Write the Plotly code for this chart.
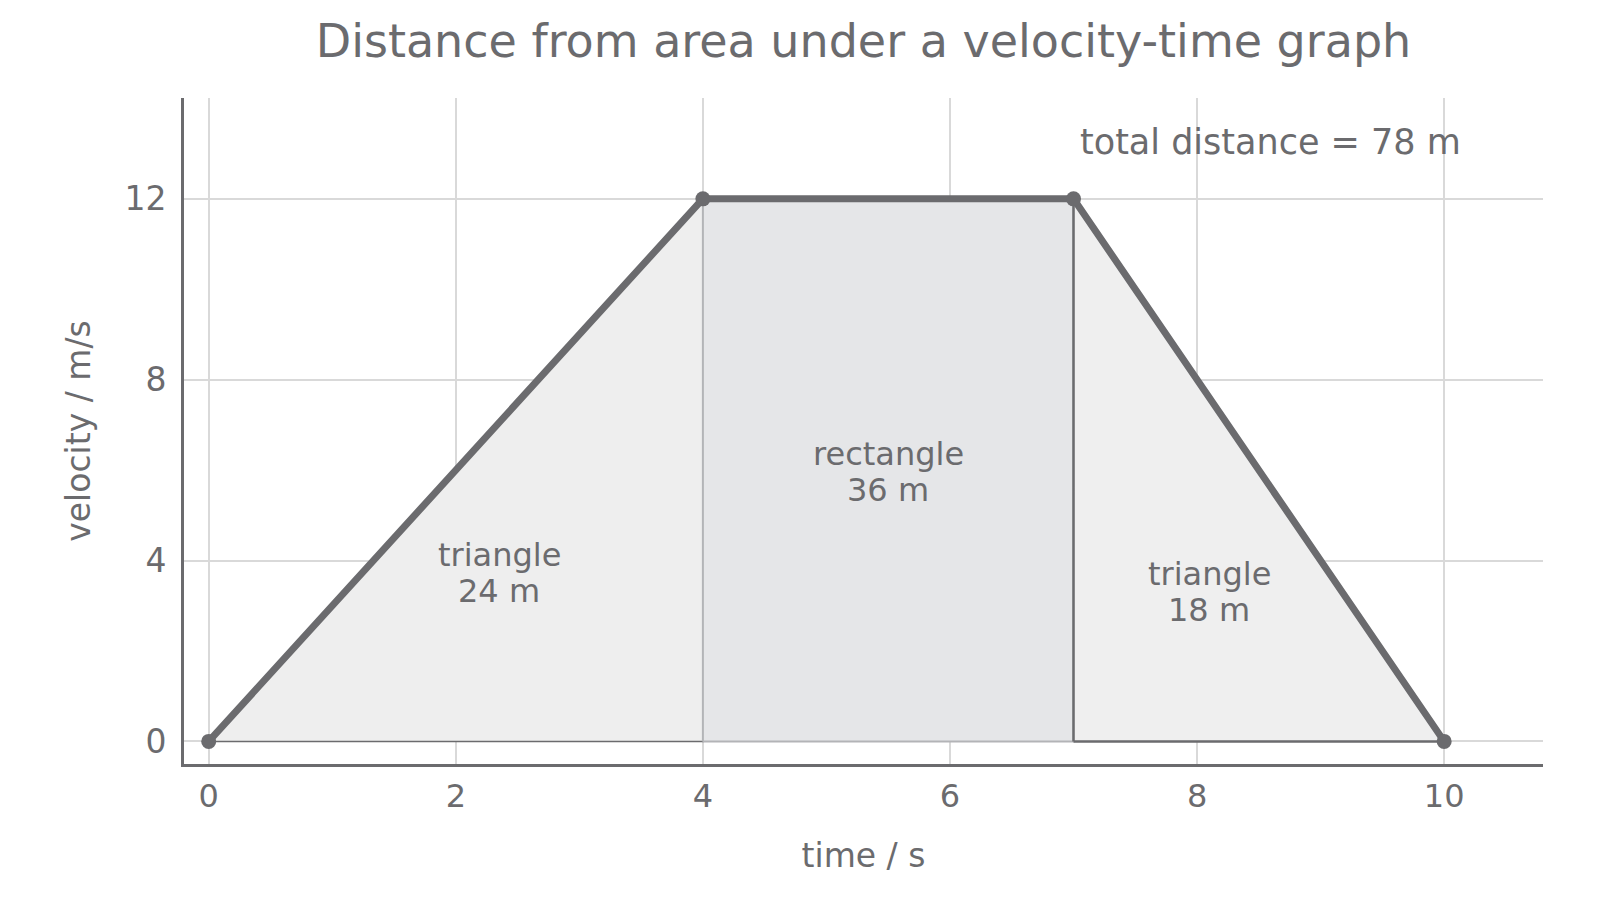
"""
velocity-time graph with the area under it split into two triangles and a rectangle.
writes out.html
"""
import plotly.graph_objects as go

# data
time_s = [0, 4, 7, 10]
velocity_ms = [0, 12, 12, 0]
region_names = ["triangle", "rectangle", "triangle"]
region_areas_m = [24, 36, 18]
total_distance_m = 78
x_ticks = [0, 2, 4, 6, 8, 10]
y_ticks = [0, 4, 8, 12]

INK = "#6b6b6e"
GRID = "#d9d9d9"
FONT = "DejaVu Sans"

fig = go.Figure()

# the three shaded pieces under the graph
t0, t1, t2, t3 = time_s
v0, v1, v2, v3 = velocity_ms
pieces = [
    ([t0, t1, t1, t0], [v0, v1, 0, v0], "#eeeeee", INK, 1.5),
    ([t1, t2, t2, t1, t1], [0, 0, v2, v1, 0], "#e5e6e8", "#b3b4b7", 2),
    ([t2, t2, t3, t2], [0, v2, v3, 0], "#efefef", INK, 2.5),
]
for xs, ys, fill, edge, w in pieces:
    fig.add_trace(go.Scatter(
        x=xs, y=ys, mode="lines", fill="toself", fillcolor=fill,
        line=dict(color=edge, width=w), hoverinfo="skip", showlegend=False,
    ))

# the velocity-time line itself
fig.add_trace(go.Scatter(
    x=time_s, y=velocity_ms, mode="lines+markers",
    line=dict(color=INK, width=7), marker=dict(color=INK, size=15),
    showlegend=False,
))

# region labels, two lines each (tighter spacing than <br> gives)
label_pos = [(2.35, 3.72), (5.5, 5.96), (8.1, 3.3)]
for (lx, ly), name, area in zip(label_pos, region_names, region_areas_m):
    for txt, shift in ((name, 18), (f"{area} m", -18)):
        fig.add_annotation(
            x=lx, y=ly, yshift=shift, text=txt, showarrow=False,
            font=dict(family=FONT, size=32, color=INK),
        )

fig.add_annotation(
    x=7.04, y=13.26, xanchor="left", yanchor="middle", showarrow=False,
    text=f"total distance = {total_distance_m} m",
    font=dict(family=FONT, size=35, color=INK),
)

fig.update_layout(
    width=1600, height=900,
    paper_bgcolor="white", plot_bgcolor="white",
    margin=dict(l=176, r=65, t=90, b=144),
    font=dict(family=FONT, color=INK),
    title=dict(
        text="Distance from area under a velocity-time graph",
        x=0.5, xref="paper", y=1 - 33 / 900, yref="container", yanchor="middle",
        font=dict(family=FONT, size=46, color=INK),
    ),
)
fig.update_xaxes(
    range=[-0.2, 10.8], tickvals=x_ticks, showgrid=True, gridcolor=GRID, gridwidth=1.5,
    zeroline=False, showline=True, linecolor=INK, linewidth=3, mirror=False,
    ticks="", tickfont=dict(size=32, color=INK), ticklabelstandoff=2,
    title=dict(text="time / s", font=dict(size=33, color=INK), standoff=30),
)
fig.update_yaxes(
    range=[-0.5, 14.23], tickvals=y_ticks, showgrid=True, gridcolor=GRID, gridwidth=1.5,
    zeroline=False, showline=True, linecolor=INK, linewidth=3, mirror=False,
    ticks="", tickfont=dict(size=33, color=INK), ticklabelstandoff=8,
    title=dict(text="velocity / m/s", font=dict(size=33, color=INK), standoff=24),
)

fig.write_html("out.html")
